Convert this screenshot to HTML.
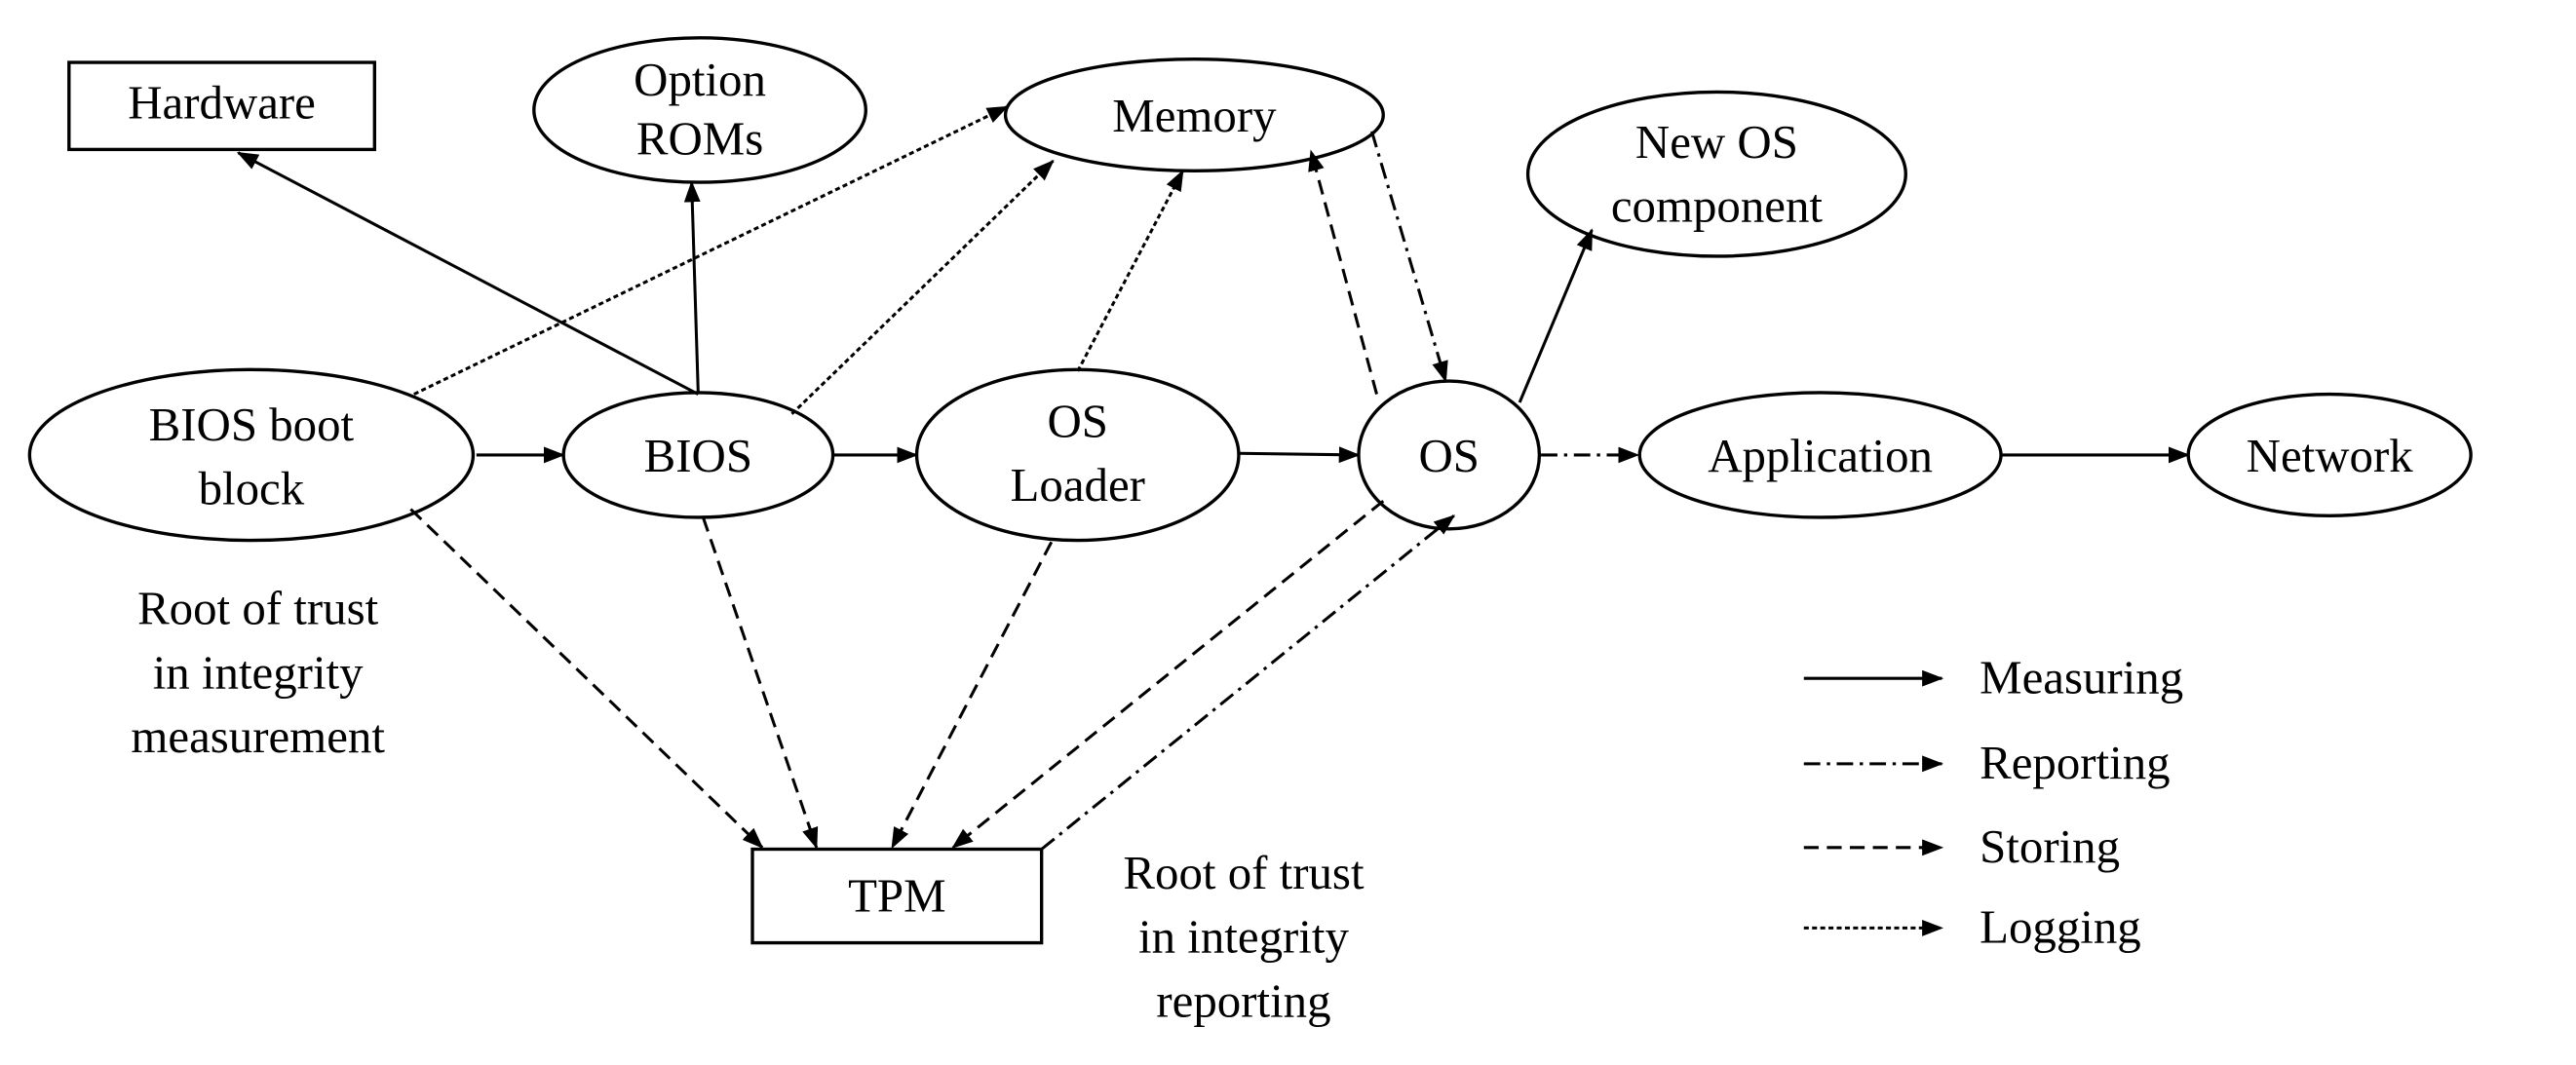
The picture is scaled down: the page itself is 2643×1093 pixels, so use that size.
<!DOCTYPE html>
<html><head><meta charset="utf-8"><style>html,body{margin:0;padding:0;background:#fff}svg{display:block}</style></head>
<body>
<svg width="2643" height="1093" viewBox="0 0 1568 648.4" preserveAspectRatio="none" xmlns="http://www.w3.org/2000/svg">
<defs>
<marker id="a" markerWidth="13" markerHeight="10" refX="12" refY="5" orient="auto" markerUnits="userSpaceOnUse" viewBox="0 0 13 10">
<path d="M0,0 L13,5 L0,10 z" fill="#000"/></marker>
</defs>
<g fill="#fff" stroke="#000" stroke-width="2">
<rect x="42" y="38" width="186" height="53"/>
<ellipse cx="426" cy="67" rx="101" ry="44"/>
<ellipse cx="727" cy="70" rx="115" ry="34"/>
<ellipse cx="1045" cy="106" rx="115" ry="50"/>
<ellipse cx="153" cy="277" rx="135" ry="52"/>
<ellipse cx="425" cy="277" rx="82" ry="38"/>
<ellipse cx="656" cy="277" rx="98" ry="52"/>
<ellipse cx="882" cy="277" rx="55" ry="45"/>
<ellipse cx="1108" cy="277" rx="110" ry="38"/>
<ellipse cx="1418" cy="277" rx="86" ry="37"/>
<rect x="458" y="517" width="176" height="57"/>
</g>
<g stroke="#000" stroke-width="1.8" fill="none" marker-end="url(#a)">
<line x1="290" y1="277" x2="343" y2="277"/>
<line x1="507" y1="277" x2="558" y2="277"/>
<line x1="754" y1="276" x2="827" y2="277"/>
<line x1="1218" y1="277" x2="1332" y2="277"/>
<line x1="425" y1="240" x2="145" y2="93"/>
<line x1="425" y1="240" x2="421" y2="111"/>
<line x1="925" y1="245" x2="969" y2="140"/>
<g stroke-dasharray="10 4 2 4">
<line x1="938" y1="277" x2="997" y2="277"/>
<line x1="835" y1="80" x2="880" y2="232"/>
<line x1="634" y1="517" x2="885" y2="314"/>
</g>
<g stroke-dasharray="3 2">
<line x1="252" y1="240" x2="613" y2="65"/>
<line x1="482" y1="252" x2="641" y2="98"/>
<line x1="656" y1="226" x2="720" y2="104"/>
</g>
<g stroke-dasharray="9 5">
<line x1="838" y1="240" x2="798" y2="92"/>
<line x1="250" y1="310" x2="464" y2="516"/>
<line x1="428" y1="315" x2="497" y2="516"/>
<line x1="640" y1="330" x2="543" y2="516"/>
<line x1="842" y1="305" x2="580" y2="516"/>
</g>
<line x1="1098" y1="413" x2="1182" y2="413"/>
<line x1="1098" y1="465" x2="1182" y2="465" stroke-dasharray="10 4 2 4"/>
<line x1="1098" y1="516" x2="1182" y2="516" stroke-dasharray="9 5"/>
<line x1="1098" y1="565" x2="1182" y2="565" stroke-dasharray="3 2"/>
</g>
<g font-family="Liberation Serif, serif" font-size="29" text-anchor="middle" fill="#000">
<text x="135" y="72">Hardware</text>
<text x="426" y="58">Option</text>
<text x="426" y="94">ROMs</text>
<text x="727" y="80">Memory</text>
<text x="1045" y="96">New OS</text>
<text x="1045" y="135">component</text>
<text x="153" y="268">BIOS boot</text>
<text x="153" y="307">block</text>
<text x="425" y="287">BIOS</text>
<text x="656" y="266">OS</text>
<text x="656" y="305">Loader</text>
<text x="882" y="287">OS</text>
<text x="1108" y="287">Application</text>
<text x="1418" y="287">Network</text>
<text x="546" y="555">TPM</text>
<text x="157" y="380">Root of trust</text>
<text x="157" y="419">in integrity</text>
<text x="157" y="458">measurement</text>
<text x="757" y="541">Root of trust</text>
<text x="757" y="580">in integrity</text>
<text x="757" y="619">reporting</text>
<g text-anchor="start">
<text x="1205" y="422">Measuring</text>
<text x="1205" y="474">Reporting</text>
<text x="1205" y="525">Storing</text>
<text x="1205" y="574">Logging</text>
</g>
</g>
</svg>
</body></html>
